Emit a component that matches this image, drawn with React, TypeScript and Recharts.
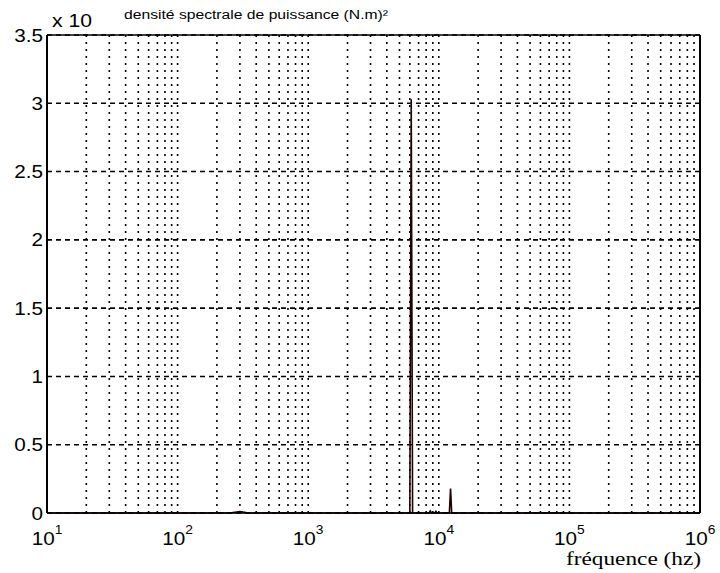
import { LineChart, Line, XAxis, YAxis, CartesianGrid, ReferenceLine } from 'recharts';

// Power spectral density samples (frequency in Hz, amplitude in units of the y multiplier)
const FREQUENCIES = [10, 250, 300, 350, 4000, 6000, 6150, 6300, 8400, 8600, 8800, 9300, 9500, 9700, 12050, 12300, 12550, 1000000];
const DENSITY = [0, 0, 0.01, 0, 0, 0, 3.03, 0, 0, 0.015, 0, 0, 0.012, 0, 0, 0.18, 0, 0];

// Decade labels and minor grid positions on the log frequency axis
const DECADES = [10, 100, 1000, 10000, 100000, 1000000];
const EXPONENTS = ['1', '2', '3', '4', '5', '6'];
const MINOR_STEPS = [1, 2, 3, 4, 5, 6, 7, 8, 9];
const Y_TICKS = [0, 0.5, 1, 1.5, 2, 2.5, 3, 3.5];
const Y_LABELS = ['0', '0.5', '1', '1.5', '2', '2.5', '3', '3.5'];

const TITLE = 'densité spectrale de puissance (N.m)²';
const X_TITLE = 'fréquence (hz)';
const MULTIPLIER = 'x 10';

const data = FREQUENCIES.map((f, i) => ({ f, psd: DENSITY[i] }));
const xTicks = [
  ...DECADES.slice(0, -1).flatMap((d) => MINOR_STEPS.map((k) => k * d)),
  DECADES[DECADES.length - 1],
];

const WIDTH = 720;
const HEIGHT = 573;
const SANS = "'Liberation Sans', Arial, Helvetica, sans-serif";
const SERIF = "'Liberation Serif', 'Times New Roman', 'DejaVu Serif', serif";

function XTick(props: any) {
  const { x, payload } = props;
  const idx = DECADES.indexOf(payload.value);
  if (idx < 0) return null;
  return (
    <g transform={`translate(${x},545) scale(1.15,1)`}>
      <text textAnchor="middle" style={{ fontFamily: SANS, fontSize: 18 }} fill="#000">
        <tspan>10</tspan>
        <tspan dy={-11} style={{ fontSize: 12 }}>{EXPONENTS[idx]}</tspan>
      </text>
    </g>
  );
}

function YTick(props: any) {
  const { y, payload } = props;
  const idx = Y_TICKS.indexOf(payload.value);
  return (
    <g transform={`translate(43,${y + 6.5}) scale(1.15,1)`}>
      <text textAnchor="end" style={{ fontFamily: SANS, fontSize: 18 }} fill="#000">
        {Y_LABELS[idx]}
      </text>
    </g>
  );
}

export default function App() {
  return (
    <div style={{ position: 'absolute', left: 0, top: 0, width: WIDTH, height: HEIGHT, background: '#fff' }}>
      <LineChart width={WIDTH} height={HEIGHT} data={data} margin={{ top: 35, right: 20, left: 0, bottom: 0 }}>
        <CartesianGrid horizontal={false} vertical stroke="#000" strokeWidth={1.6} strokeDasharray="2 5" />
        <CartesianGrid horizontal vertical={false} stroke="#000" strokeWidth={1.6} strokeDasharray="5 4" />
        <XAxis
          dataKey="f"
          type="number"
          scale="log"
          domain={[10, 1000000]}
          ticks={xTicks}
          interval={0}
          tick={<XTick />}
          tickLine={false}
          axisLine={{ stroke: '#000', strokeWidth: 1.5 }}
          height={60}
          allowDataOverflow
        />
        <YAxis
          type="number"
          domain={[0, 3.5]}
          ticks={Y_TICKS}
          interval={0}
          tick={<YTick />}
          tickLine={false}
          axisLine={{ stroke: '#000', strokeWidth: 2 }}
          width={47}
        />
        {/* box frame: top and right edges */}
        <ReferenceLine y={3.5} stroke="#000" strokeWidth={1.5} />
        <ReferenceLine x={1000000} stroke="#000" strokeWidth={2} />
        <Line
          dataKey="psd"
          type="linear"
          stroke="#200000"
          strokeWidth={1.6}
          dot={false}
          isAnimationActive={false}
        />
      </LineChart>
      <svg width={WIDTH} height={HEIGHT} style={{ position: 'absolute', left: 0, top: 0, pointerEvents: 'none' }}>
        <text x={52} y={27} style={{ fontFamily: SANS, fontSize: 19 }} textLength={40} lengthAdjust="spacingAndGlyphs">
          {MULTIPLIER}
        </text>
        <text x={124} y={19} style={{ fontFamily: SANS, fontSize: 12.5 }} textLength={264} lengthAdjust="spacingAndGlyphs">
          {TITLE}
        </text>
        <text x={566} y={565} style={{ fontFamily: SERIF, fontSize: 19 }} textLength={135} lengthAdjust="spacingAndGlyphs">
          {X_TITLE}
        </text>
      </svg>
    </div>
  );
}
